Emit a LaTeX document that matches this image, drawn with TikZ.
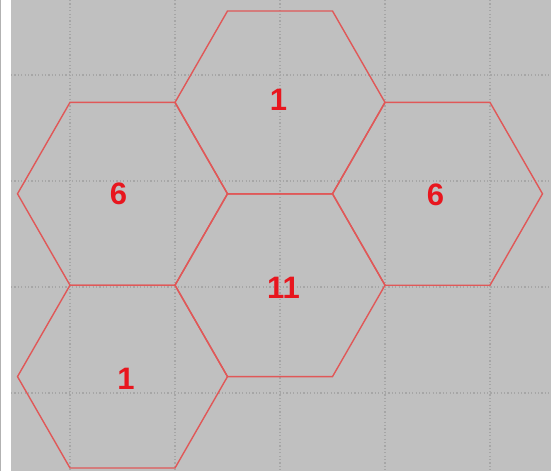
\documentclass[tikz,border=0pt]{standalone}
\usepackage{fontspec}
\setmainfont{Liberation Sans}
\definecolor{bg}{HTML}{C0C0C0}
\definecolor{gridgray}{HTML}{A6A6A6}
\definecolor{hexred}{HTML}{E05858}
\definecolor{numred}{HTML}{E8161E}
\begin{document}
\begin{tikzpicture}[x=1pt,y=-1pt,
  hexline/.style={draw=hexred,line width=1.4pt,line join=miter},
  gridline/.style={draw=gridgray,line width=1.2pt,dash pattern=on 1.2pt off 2.2pt},
  num/.style={text=numred,font=\bfseries\fontsize{31}{31}\selectfont,inner sep=0pt}]
\useasboundingbox (0,0) rectangle (551,471);
\fill[white] (0,0) rectangle (11,471);
\draw[gray!60,line width=1pt] (0.5,0) -- (0.5,471);
\fill[bg] (11,0) rectangle (551,471);
\foreach \x in {70,175,280,385,490} \draw[gridline] (\x,0) -- (\x,471);
\foreach \y in {75,181,287,393} \draw[gridline] (11,\y) -- (551,\y);
\foreach \cx/\cy in {280/102.4,122.5/193.8,437.5/193.8,280/285.2,122.5/376.6}
  \draw[hexline] (\cx-105,\cy) -- (\cx-52.5,\cy-91.4) -- (\cx+52.5,\cy-91.4)
    -- (\cx+105,\cy) -- (\cx+52.5,\cy+91.4) -- (\cx-52.5,\cy+91.4) -- cycle;
\node[num] (ntop) at (278.5,99.5) {1};
\node[num] (nleft) at (118.5,194) {6};
\node[num] (nright) at (435.5,194.5) {6};
\node[num] (ncenter) at (283.5,287.5) {11};
\node[num] (nbottom) at (126,379) {1};
\end{tikzpicture}
\end{document}
